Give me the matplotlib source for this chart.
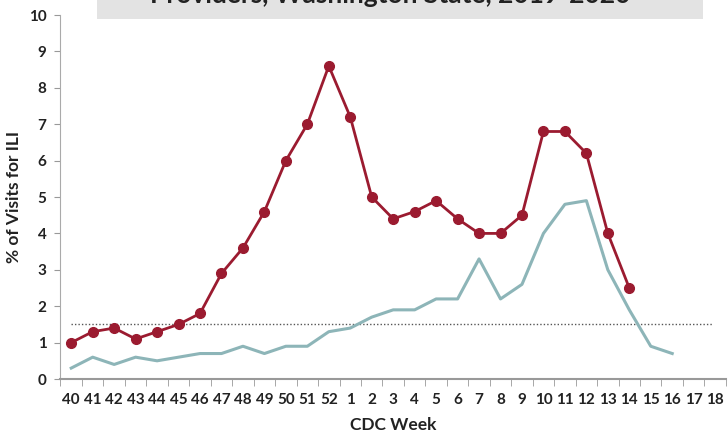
#Recreate ILI chart for Washington State, 2019-2020
import numpy as np
import matplotlib.pyplot as plt
from matplotlib.patches import Rectangle

plt.rcParams['font.family'] = ['Lato', 'DejaVu Sans']

#Data
weeks = ['40', '41', '42', '43', '44', '45', '46', '47', '48', '49', '50', '51', '52',
         '1', '2', '3', '4', '5', '6', '7', '8', '9', '10', '11', '12', '13', '14',
         '15', '16', '17', '18']
season_2019_2020 = [1.0, 1.3, 1.4, 1.1, 1.3, 1.5, 1.8, 2.9, 3.6, 4.6, 6.0, 7.0, 8.6,
                    7.2, 5.0, 4.4, 4.6, 4.9, 4.4, 4.0, 4.0, 4.5, 6.8, 6.8, 6.2, 4.0, 2.5]
season_prev = [0.3, 0.6, 0.4, 0.6, 0.5, 0.6, 0.7, 0.7, 0.9, 0.7, 0.9, 0.9, 1.3,
               1.4, 1.7, 1.9, 1.9, 2.2, 2.2, 3.3, 2.2, 2.6, 4.0, 4.8, 4.9, 3.0, 1.9,
               0.9, 0.7]
baseline = 1.5

x = np.arange(len(weeks))

fig = plt.figure(figsize=(7.28, 4.34), dpi=100)
ax = fig.add_axes([0.0831, 0.1267, 0.914, 0.8387])

#Title box (cut off at the top, as in the source)
fig.patches.append(Rectangle((97/728, 1 - 19/434), 606/728, 19/434,
                             transform=fig.transFigure, facecolor='#e3e3e3',
                             edgecolor='none', zorder=0))
fig.text(390/728, 0.993, 'Providers, Washington State, 2019-2020', ha='center',
         va='baseline', fontsize=19, fontweight='bold', color='#222222')

ax.plot(x[:len(season_prev)], season_prev, color='#8db5b8', lw=2.2, zorder=2)
ax.plot(x[:len(season_2019_2020)], season_2019_2020, color='#9b1b30', lw=2.0,
        marker='o', markersize=7, zorder=3)
ax.plot([x[0], x[-1] - 0.1], [baseline, baseline], color='#555555', lw=1,
        linestyle=(0, (1, 1.5)), zorder=1)

ax.set_xlim(-0.5, len(weeks) - 0.5)
ax.set_ylim(0, 10)
ax.set_yticks(range(0, 11))
ax.set_xticks(x)
ax.set_xticklabels(weeks)
ax.set_xticks(np.arange(-0.5, len(weeks), 1), minor=True)
ax.tick_params(axis='x', which='major', length=0, pad=10, labelsize=11,
               labelcolor='#222222')
ax.tick_params(axis='x', which='minor', length=5, color='#999999', direction='out')
ax.tick_params(axis='y', length=4, color='#999999', labelsize=11,
               labelcolor='#222222', pad=6)
for lab in ax.get_xticklabels() + ax.get_yticklabels():
    lab.set_fontweight('bold')

for s in ['top', 'right']:
    ax.spines[s].set_visible(False)
ax.spines['left'].set_color('#aaaaaa')
ax.spines['bottom'].set_color('#999999')
ax.spines['bottom'].set_linewidth(1.5)

ax.set_xlabel('CDC Week', fontsize=12.5, fontweight='bold', color='#222222', labelpad=7)
ax.set_ylabel('% of Visits for ILI', fontsize=12.5, fontweight='bold', color='#222222',
              labelpad=5)

plt.savefig('out.png', dpi=100)
